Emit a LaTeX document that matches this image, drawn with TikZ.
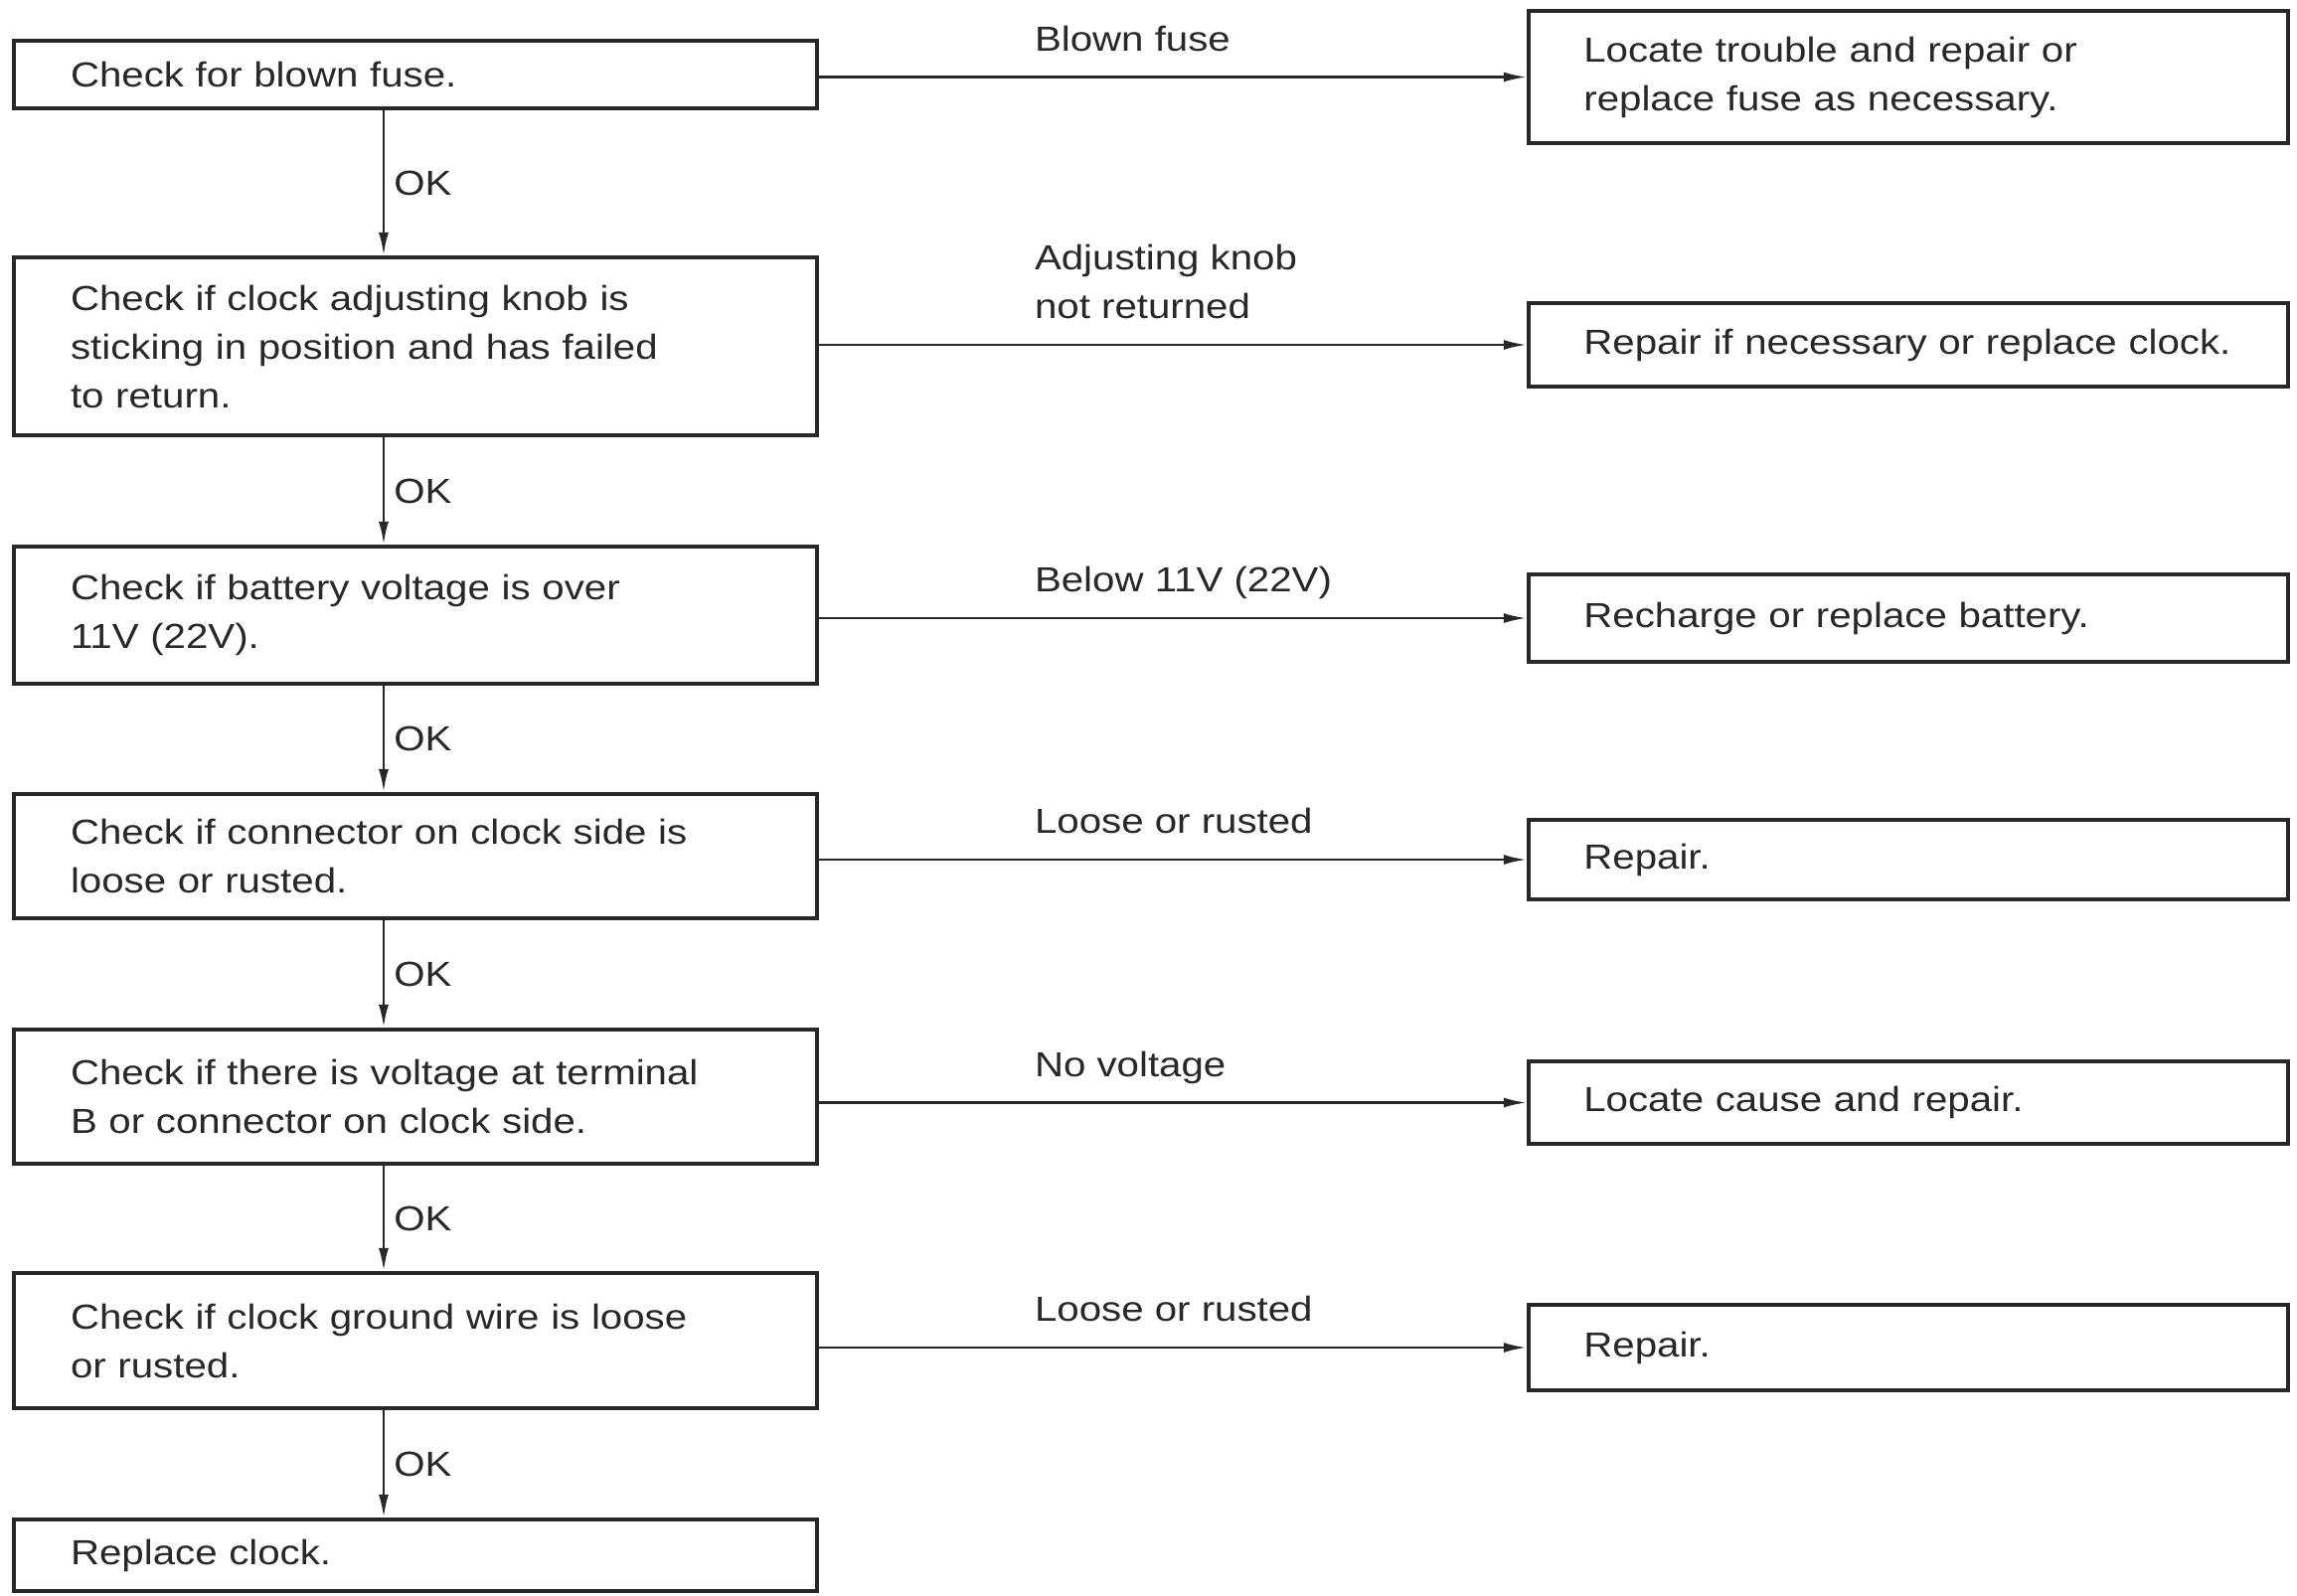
\documentclass[tikz,border=0pt]{standalone}
\usepackage{fontspec}
\setmainfont{Liberation Sans}[FakeStretch=1.15]
\usetikzlibrary{arrows.meta}
\definecolor{ink}{RGB}{40,40,40}
\begin{document}
\begin{tikzpicture}[x=0.3pt, y=-0.3pt,
  txt/.style={font=\fontsize{10.5}{14.7}\selectfont, text=ink},
  lbox/.style={txt, draw=ink, line width=1.1pt, inner xsep=17.1pt, inner ysep=0pt,
    text width=208.2pt, align=left},
  rbox/.style={txt, draw=ink, line width=1.1pt, inner xsep=16.6pt, inner ysep=0pt,
    text width=196pt, align=left},
  conn/.style={draw=ink, line width=0.8pt, -{Latex[length=7pt,width=3pt]}},
  elab/.style={txt, pos=0.303, anchor=south west, inner sep=0pt, text depth=0pt,
    yshift=7.5pt, align=left},
  oklab/.style={txt, midway, anchor=west, inner sep=0pt, xshift=2.7pt}
]
\fill[white] (0,0) rectangle (2311,1605);
\useasboundingbox (0,0) rectangle (2311,1605);

% left column
\node[lbox, minimum height=20.4pt] (L1) at (418,75) {Check for blown fuse.};
\node[lbox, minimum height=53.7pt] (L2) at (418,348.5) {Check if clock adjusting knob is\\sticking in position and has failed\\to return.};
\node[lbox, minimum height=41.4pt] (L3) at (418,619) {Check if battery voltage is over\\11V (22V).};
\node[lbox, minimum height=37.5pt] (L4) at (418,861.5) {Check if connector on clock side is\\loose or rusted.};
\node[lbox, minimum height=40.5pt] (L5) at (418,1103.5) {Check if there is voltage at terminal\\B or connector on clock side.};
\node[lbox, minimum height=40.8pt] (L6) at (418,1349) {Check if clock ground wire is loose\\or rusted.};
\node[lbox, minimum height=21.6pt] (L7) at (418,1565) {Replace clock.};

% right column
\node[rbox, minimum height=39.9pt] (R1) at (1920,77.5) {Locate trouble and repair or\\replace fuse as necessary.};
\node[rbox, minimum height=25.2pt] (R2) at (1920,347) {\mbox{Repair if necessary or replace clock.}};
\node[rbox, minimum height=26.4pt] (R3) at (1920,622) {Recharge or replace battery.};
\node[rbox, minimum height=24pt] (R4) at (1920,865) {Repair.};
\node[rbox, minimum height=24.9pt] (R5) at (1920,1109.5) {Locate cause and repair.};
\node[rbox, minimum height=25.8pt] (R6) at (1920,1356) {Repair.};

% horizontal connectors
\draw[conn] (L1.east |- R1.west) -- node[elab]{Blown fuse} (R1.west);
\draw[conn] (L2.east |- R2.west) -- node[elab]{Adjusting knob\\not returned} (R2.west);
\draw[conn] (L3.east |- R3.west) -- node[elab]{Below 11V (22V)} (R3.west);
\draw[conn] (L4.east |- R4.west) -- node[elab]{Loose or rusted} (R4.west);
\draw[conn] (L5.east |- R5.west) -- node[elab]{No voltage} (R5.west);
\draw[conn] (L6.east |- R6.west) -- node[elab]{Loose or rusted} (R6.west);

% vertical connectors
\coordinate (vx) at (386,0);
\draw[conn] (L1.south -| vx) -- node[oklab]{OK} (L2.north -| vx);
\draw[conn] (L2.south -| vx) -- node[oklab]{OK} (L3.north -| vx);
\draw[conn] (L3.south -| vx) -- node[oklab]{OK} (L4.north -| vx);
\draw[conn] (L4.south -| vx) -- node[oklab]{OK} (L5.north -| vx);
\draw[conn] (L5.south -| vx) -- node[oklab]{OK} (L6.north -| vx);
\draw[conn] (L6.south -| vx) -- node[oklab]{OK} (L7.north -| vx);
\end{tikzpicture}
\end{document}
